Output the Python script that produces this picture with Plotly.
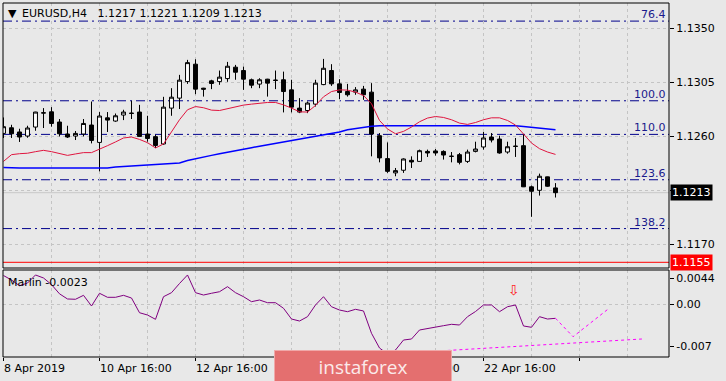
import plotly.graph_objects as go

W, H = 726, 381

# ---------------- data ----------------
bars = list(range(70))

open_ = [1.12624, 1.12671, 1.12636, 1.12602, 1.12677, 1.12793, 1.12804, 1.12719, 1.12619, 1.12602,
         1.12619, 1.12694, 1.12549, 1.12754, 1.12727, 1.12777, 1.12793, 1.12802, 1.12619, 1.12597,
         1.12536, 1.12835, 1.12918, 1.13056, 1.13201, 1.13001, 1.13062, 1.13056, 1.13081, 1.13176,
         1.13148, 1.13071, 1.13035, 1.13076, 1.13068, 1.13071, 1.12987, 1.12835, 1.12815, 1.12868,
         1.13031, 1.13148, 1.13037, 1.12973, 1.12968, 1.12993, 1.12968, 1.12605, 1.12414, 1.12295,
         1.12317, 1.12400, 1.12391, 1.12474, 1.12478, 1.12474, 1.12434, 1.12447, 1.12391, 1.12474,
         1.12511, 1.12594, 1.12577, 1.12469, 1.12518, 1.12522, 1.12179, 1.12150, 1.12262, 1.12170]
high = [1.12757, 1.12696, 1.12663, 1.12688, 1.12804, 1.12835, 1.12843, 1.12744, 1.12688, 1.12644,
        1.12744, 1.12890, 1.12802, 1.12802, 1.12790, 1.12821, 1.12896, 1.12862, 1.12771, 1.12613,
        1.12929, 1.13001, 1.13112, 1.13237, 1.13242, 1.13004, 1.13071, 1.13148, 1.13220, 1.13195,
        1.13181, 1.13081, 1.13084, 1.13079, 1.13148, 1.13139, 1.13071, 1.12918, 1.12890, 1.13071,
        1.13245, 1.13201, 1.13076, 1.13037, 1.13010, 1.13020, 1.13043, 1.12627, 1.12549, 1.12336,
        1.12416, 1.12433, 1.12489, 1.12489, 1.12494, 1.12483, 1.12469, 1.12461, 1.12489, 1.12555,
        1.12636, 1.12627, 1.12605, 1.12555, 1.12586, 1.12619, 1.12189, 1.12289, 1.12264, 1.12210]
low = [1.12586, 1.12586, 1.12553, 1.12588, 1.12646, 1.12669, 1.12680, 1.12599, 1.12586, 1.12569,
       1.12599, 1.12541, 1.12308, 1.12636, 1.12721, 1.12735, 1.12744, 1.12597, 1.12555, 1.12503,
       1.12530, 1.12771, 1.12827, 1.13037, 1.12951, 1.12931, 1.12993, 1.13029, 1.13054, 1.13071,
       1.12987, 1.13001, 1.13001, 1.12931, 1.12993, 1.12799, 1.12799, 1.12793, 1.12793, 1.12848,
       1.13026, 1.13020, 1.12910, 1.12931, 1.12946, 1.12904, 1.12433, 1.12383, 1.12295, 1.12267,
       1.12295, 1.12336, 1.12391, 1.12428, 1.12439, 1.12406, 1.12383, 1.12366, 1.12378, 1.12466,
       1.12489, 1.12549, 1.12455, 1.12455, 1.12428, 1.12177, 1.11929, 1.12106, 1.12179, 1.12090]
close = [1.12680, 1.12621, 1.12594, 1.12669, 1.12802, 1.12796, 1.12707, 1.12621, 1.12594, 1.12624,
         1.12707, 1.12566, 1.12769, 1.12735, 1.12771, 1.12802, 1.12791, 1.12599, 1.12582, 1.12524,
         1.12843, 1.12926, 1.13068, 1.13214, 1.12993, 1.12993, 1.13040, 1.13093, 1.13184, 1.13134,
         1.13076, 1.13026, 1.13071, 1.13043, 1.13066, 1.12973, 1.12843, 1.12802, 1.12877, 1.13043,
         1.13167, 1.13037, 1.12965, 1.12946, 1.12987, 1.12946, 1.12619, 1.12420, 1.12308, 1.12314,
         1.12411, 1.12386, 1.12480, 1.12461, 1.12461, 1.12444, 1.12433, 1.12383, 1.12469, 1.12494,
         1.12586, 1.12569, 1.12461, 1.12513, 1.12516, 1.12179, 1.12142, 1.12267, 1.12184, 1.12130]

ma_fast = [1.12391, 1.12447, 1.12455, 1.12459, 1.12472, 1.12483, 1.12472, 1.12455, 1.12441, 1.12453,
           1.12464, 1.12464, 1.12491, 1.12522, 1.12553, 1.12586, 1.12594, 1.12574, 1.12547, 1.12503,
           1.12536, 1.12636, 1.12738, 1.12821, 1.12848, 1.12838, 1.12818, 1.12815, 1.12832, 1.12848,
           1.12860, 1.12868, 1.12877, 1.12882, 1.12882, 1.12862, 1.12835, 1.12804, 1.12802, 1.12857,
           1.12929, 1.12973, 1.12987, 1.12985, 1.12968, 1.12940, 1.12871, 1.12732, 1.12661, 1.12621,
           1.12641, 1.12677, 1.12721, 1.12752, 1.12765, 1.12757, 1.12738, 1.12710, 1.12699, 1.12715,
           1.12738, 1.12754, 1.12754, 1.12732, 1.12694, 1.12619, 1.12544, 1.12497, 1.12469, 1.12449]
ma_slow = [1.12341, 1.12336, 1.12336, 1.12336, 1.12336, 1.12336, 1.12336, 1.12336, 1.12336, 1.12336,
           1.12336, 1.12336, 1.12336, 1.12336, 1.12345, 1.12349, 1.12353, 1.12356, 1.12358, 1.12361,
           1.12364, 1.12368, 1.12378, 1.12399, 1.12415, 1.12428, 1.12441, 1.12455, 1.12469, 1.12480,
           1.12494, 1.12505, 1.12518, 1.12530, 1.12541, 1.12555, 1.12567, 1.12577, 1.12588, 1.12605,
           1.12616, 1.12627, 1.12636, 1.12655, 1.12666, 1.12674, 1.12684, 1.12688, 1.12688, 1.12688,
           1.12688, 1.12688, 1.12688, 1.12688, 1.12688, 1.12688, 1.12688, 1.12688, 1.12692, 1.12694,
           1.12694, 1.12692, 1.12691, 1.12692, 1.12688, 1.12682, 1.12676, 1.12670, 1.12663, 1.12655]

marlin = [0.00483, 0.00408, 0.00313, 0.00358, 0.00492, 0.00442, 0.00332, 0.00178, 0.00092, 0.00087,
          0.00153, -0.00025, 0.00187, 0.00120, 0.00120, 0.00153, 0.00108, -0.00137, -0.00175, -0.00247,
          0.00130, 0.00197, 0.00350, 0.00492, 0.00197, 0.00158, 0.00187, 0.00213, 0.00297, 0.00197,
          0.00130, 0.00047, 0.00075, 0.00030, 0.00030, -0.00063, -0.00242, -0.00275, -0.00203, -0.00008,
          0.00130, -0.00037, -0.00092, -0.00120, -0.00080, -0.00108, -0.00480, -0.00725, -0.00825, -0.00758,
          -0.00592, -0.00575, -0.00425, -0.00397, -0.00380, -0.00353, -0.00330, -0.00342, -0.00203, -0.00117,
          -0.00008, -0.00008, -0.00120, -0.00037, -0.00008, -0.00358, -0.00380, -0.00203, -0.00242, -0.00230]

proj_x = [69, 71.2, 75.7]
proj_y = [-0.00230, -0.00537, -0.00063]
trend_x = [48, 79.8]
trend_y = [-0.00825, -0.00575]
signal_x = [63.75]
signal_y = [0.0021]

fib_levels = [1.13560, 1.12896, 1.12616, 1.12238, 1.11831]
fib_labels = ["76.4", "100.0", "110.0", "123.6", "138.2"]
support_level = 1.1155

price_ticks = [1.1170, 1.1215, 1.1260, 1.1305, 1.1350]
price_tick_text = ["1.1170", "", "1.1260", "1.1305", "1.1350"]
ind_ticks = [0.0044, 0.0, -0.007]
ind_tick_text = ["0.0044", "0.00", "-0.007"]

x_label_idx = [0, 12, 24, 36, 48, 60]
x_label_text = ["8 Apr 2019", "10 Apr 16:00", "12 Apr 16:00", "16 Apr 16:00", "18 Apr 16:00", "22 Apr 16:00"]

title_text = "EURUSD,H4\u00a0\u00a0 1.1217 1.1221 1.1209 1.1213"
ind_title = "Marlin -0.0023"

# ---------------- styles ----------------
BG = "#E8E8E8"
GRID = "#C4C4C4"
FIB = "#00008B"
FONT = "DejaVu Sans"


def px_x(p):
    return p / W


def px_y(p):
    return 1 - p / H


fig = go.Figure()

fig.add_trace(go.Candlestick(
    x=bars, open=open_, high=high, low=low, close=close,
    increasing=dict(line=dict(color="black", width=1), fillcolor="white"),
    decreasing=dict(line=dict(color="black", width=1), fillcolor="black"),
    whiskerwidth=0, hoverinfo="skip", showlegend=False, xaxis="x", yaxis="y"))

fig.add_trace(go.Scatter(x=bars, y=ma_slow, mode="lines",
                         line=dict(color="#0000FF", width=1.5),
                         hoverinfo="skip", showlegend=False, xaxis="x", yaxis="y"))
fig.add_trace(go.Scatter(x=bars, y=ma_fast, mode="lines",
                         line=dict(color="#E0153F", width=1),
                         hoverinfo="skip", showlegend=False, xaxis="x", yaxis="y"))

fig.add_trace(go.Scatter(x=bars, y=marlin, mode="lines",
                         line=dict(color="#800080", width=1),
                         hoverinfo="skip", showlegend=False, xaxis="x", yaxis="y2"))
fig.add_trace(go.Scatter(x=proj_x, y=proj_y, mode="lines",
                         line=dict(color="#FF00FF", width=1, dash="3px,3px"),
                         hoverinfo="skip", showlegend=False, xaxis="x", yaxis="y2"))
fig.add_trace(go.Scatter(x=trend_x, y=trend_y, mode="lines",
                         line=dict(color="#FF00FF", width=1, dash="3px,3px"),
                         hoverinfo="skip", showlegend=False, xaxis="x", yaxis="y2"))
fig.add_trace(go.Scatter(x=signal_x, y=signal_y, mode="text", text=["\u21e9"],
                         textfont=dict(family=FONT, size=14, color="#FF2020"),
                         hoverinfo="skip", showlegend=False, xaxis="x", yaxis="y2"))

shapes = []
for lv in fib_levels:
    shapes.append(dict(type="line", xref="x domain", yref="y", x0=0, x1=1, y0=lv, y1=lv,
                       line=dict(color=FIB, width=1, dash="9px,4px,2px,4px"), layer="below"))
shapes.append(dict(type="line", xref="x domain", yref="y", x0=0, x1=1,
                   y0=close[-1], y1=close[-1], line=dict(color="#C8C8C8", width=1), layer="below"))
shapes.append(dict(type="line", xref="x domain", yref="y", x0=0, x1=1,
                   y0=support_level, y1=support_level, line=dict(color="#FF0000", width=1)))
shapes.append(dict(type="line", xref="x domain", yref="y2", x0=0, x1=1, y0=0, y1=0,
                   line=dict(color=GRID, width=1, dash="3px,3px"), layer="below"))
shapes.append(dict(type="rect", xref="x domain", yref="y domain", x0=0, x1=1, y0=0, y1=1,
                   line=dict(color="black", width=1)))
shapes.append(dict(type="rect", xref="x domain", yref="y2 domain", x0=0, x1=1, y0=0, y1=1,
                   line=dict(color="black", width=1)))

ann = []
ann.append(dict(xref="paper", yref="paper", x=px_x(6), y=px_y(13), text="\u25bc",
                showarrow=False, xanchor="left", yanchor="middle",
                font=dict(family=FONT, size=11, color="black")))
ann.append(dict(xref="paper", yref="paper", x=px_x(20), y=px_y(13), text=title_text,
                showarrow=False, xanchor="left", yanchor="middle",
                font=dict(family=FONT, size=11, color="black")))
for lv, lb in zip(fib_levels, fib_labels):
    ann.append(dict(xref="x domain", yref="y", x=1, y=lv, text=lb, showarrow=False,
                    xanchor="right", yanchor="bottom", xshift=-1, yshift=-2,
                    font=dict(family=FONT, size=11, color="#1A1A8C")))
ann.append(dict(xref="paper", yref="y", x=px_x(670), y=close[-1], text="1.1213",
                showarrow=False, xanchor="left", yanchor="middle", bgcolor="black",
                borderpad=1, font=dict(family=FONT, size=11, color="white")))
ann.append(dict(xref="paper", yref="y", x=px_x(670), y=support_level, text="1.1155",
                showarrow=False, xanchor="left", yanchor="middle", bgcolor="#FF0000",
                borderpad=1, font=dict(family=FONT, size=11, color="white")))
ann.append(dict(xref="paper", yref="paper", x=px_x(6), y=px_y(282), text=ind_title,
                showarrow=False, xanchor="left", yanchor="middle",
                font=dict(family=FONT, size=11, color="black")))
for xi, tx in zip(x_label_idx, x_label_text):
    ann.append(dict(xref="x", yref="paper", x=xi, y=px_y(368), text=tx, showarrow=False,
                    xanchor="left", yanchor="middle", xshift=-2,
                    font=dict(family=FONT, size=11, color="black")))
# watermark
ann.append(dict(xref="paper", yref="paper", x=px_x(362.5), y=px_y(366.5), text="instaforex",
                showarrow=False, xanchor="center", yanchor="middle", width=176, height=32,
                bgcolor="#E46F6F", bordercolor="#F0A8A8", borderwidth=1, borderpad=0,
                font=dict(family="Open Sans", size=19, color="#FBEAEA")))

fig.update_layout(
    width=W, height=H,
    margin=dict(l=0, r=0, t=0, b=0),
    paper_bgcolor=BG, plot_bgcolor=BG,
    font=dict(family=FONT, size=11, color="black"),
    showlegend=False,
    hovermode=False,
    xaxis=dict(domain=[px_x(3), px_x(669)], range=[-0.0625, 83.1875], anchor="y2",
               rangeslider=dict(visible=False), showticklabels=False,
               tickmode="linear", tick0=0, dtick=12, ticks="outside", ticklen=3,
               tickcolor="black", showgrid=True, gridcolor=GRID, griddash="3px,3px",
               minor=dict(tick0=0, dtick=6, showgrid=True, gridcolor=GRID, griddash="3px,3px"),
               zeroline=False, showline=False, fixedrange=True),
    yaxis=dict(domain=[px_y(268), px_y(3)], range=[1.115025, 1.137108], anchor="x",
               side="right", tickmode="array", tickvals=price_ticks, ticktext=price_tick_text,
               ticks="outside", ticklen=4, tickcolor="black",
               showgrid=True, gridcolor=GRID, griddash="3px,3px",
               zeroline=False, showline=False, fixedrange=True),
    yaxis2=dict(domain=[px_y(357), px_y(270)], range=[-0.00875, 0.00575], anchor="x",
                side="right", tickmode="array", tickvals=ind_ticks, ticktext=ind_tick_text,
                ticks="outside", ticklen=4, tickcolor="black",
                showgrid=False, zeroline=False, showline=False, fixedrange=True),
    shapes=shapes,
    annotations=ann,
)

fig.write_html(
    "out.html",
    config={"displayModeBar": False, "staticPlot": True},
    post_script="document.body.style.margin='0';document.body.style.overflow='hidden';document.body.style.background='" + BG + "';",
)
